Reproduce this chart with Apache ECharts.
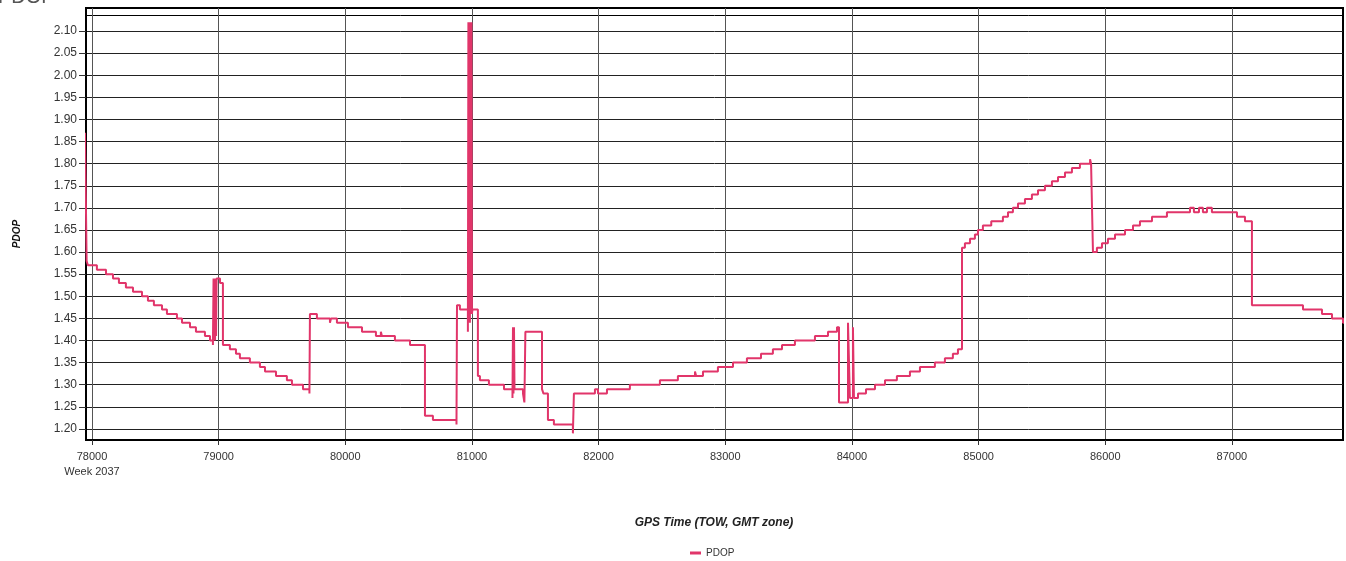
<!DOCTYPE html>
<html>
<head>
<meta charset="utf-8">
<script src="https://cdn.jsdelivr.net/npm/echarts@6/dist/echarts.min.js"></script>
<style>
html,body{margin:0;padding:0;background:#fff;}
#chart{width:1346px;height:561px;}
</style>
</head>
<body>
<div id="chart"></div>
<script>
// Tick labels
const xTicks = [78000, 79000, 80000, 81000, 82000, 83000, 84000, 85000, 86000, 87000];
const yTicks = [1.20, 1.25, 1.30, 1.35, 1.40, 1.45, 1.50, 1.55, 1.60, 1.65, 1.70, 1.75, 1.80, 1.85, 1.90, 1.95, 2.00, 2.05, 2.10];
const seriesName = 'PDOP';
const weekLabel = 'Week 2037';

// GPS time (TOW, s) at which each step starts
const tow = [
  77945, 77958, 77968, 78039, 78111, 78166, 78213, 78268, 78324, 78395,
  78442, 78489, 78553, 78592, 78671, 78711, 78774, 78821, 78892, 78932,
  78955, 78960, 78964, 78968, 78972, 78976, 78980, 78984, 79011, 79034,
  79089, 79137, 79168, 79247, 79326, 79366, 79453, 79539, 79579, 79666,
  79717, 79721, 79776, 79879, 79887, 79934, 80021, 80132, 80242, 80281,
  80289, 80392, 80511, 80629, 80692, 80878, 80882, 80905,
  80968, 80972, 80976, 80980, 80984, 80988, 80992, 80996, 81000, 81004,
  81047, 81063, 81134, 81253, 81320, 81324, 81328, 81332, 81336, 81403,
  81414, 81422, 81553, 81565, 81600, 81647, 81797, 81805, 81971, 81995,
  82066, 82247, 82484, 82626, 82761, 82770, 82824, 82942, 83061, 83171,
  83282, 83376, 83448, 83550, 83708, 83811, 83882, 83898, 83969, 83984,
  84008, 84016, 84048, 84111, 84182, 84261, 84355, 84458, 84537, 84655,
  84734, 84797, 84837, 84869, 84892, 84932, 84971, 84995, 85034, 85100,
  85192, 85232, 85271, 85311, 85366, 85421, 85469, 85524, 85579, 85627,
  85682, 85737, 85800, 85880, 85888, 85903, 85934, 85974, 86021, 86077,
  86156, 86219, 86274, 86369, 86487, 86669, 86700, 86740, 86771, 86803,
  86842, 87040, 87103, 87158, 87561, 87711, 87790, 87877, 87900
];
// PDOP value held from that time until the next one
const pdop = [
  1.87, 1.58, 1.57, 1.56, 1.55, 1.54, 1.53, 1.52, 1.51, 1.50,
  1.49, 1.48, 1.47, 1.46, 1.45, 1.44, 1.43, 1.42, 1.41, 1.40,
  1.39, 1.54, 1.40, 1.54, 1.40, 1.54, 1.41, 1.54, 1.53, 1.39,
  1.38, 1.37, 1.36, 1.35, 1.34, 1.33, 1.32, 1.31, 1.30, 1.29,
  1.28, 1.46, 1.45, 1.44, 1.45, 1.44, 1.43, 1.42, 1.41, 1.42,
  1.41, 1.40, 1.39, 1.23, 1.22, 1.21, 1.48, 1.47,
  1.42, 2.12, 1.45, 2.12, 1.44, 2.12, 1.47, 2.12, 1.46, 1.47,
  1.32, 1.31, 1.30, 1.29, 1.27, 1.43, 1.28, 1.43, 1.29, 1.28,
  1.26, 1.42, 1.29, 1.28, 1.22, 1.21, 1.19, 1.28, 1.29, 1.28,
  1.29, 1.30, 1.31, 1.32, 1.33, 1.32, 1.33, 1.34, 1.35, 1.36,
  1.37, 1.38, 1.39, 1.40, 1.41, 1.42, 1.43, 1.26, 1.44, 1.27,
  1.43, 1.27, 1.28, 1.29, 1.30, 1.31, 1.32, 1.33, 1.34, 1.35,
  1.36, 1.37, 1.38, 1.61, 1.62, 1.63, 1.64, 1.65, 1.66, 1.67,
  1.68, 1.69, 1.70, 1.71, 1.72, 1.73, 1.74, 1.75, 1.76, 1.77,
  1.78, 1.79, 1.80, 1.81, 1.80, 1.60, 1.61, 1.62, 1.63, 1.64,
  1.65, 1.66, 1.67, 1.68, 1.69, 1.70, 1.69, 1.70, 1.69, 1.70,
  1.69, 1.68, 1.67, 1.48, 1.47, 1.46, 1.45, 1.44, 1.44
];

const FONT = '"Liberation Sans", Arial, sans-serif';
const LINE_COLOR = '#e1356a';

const chart = echarts.init(document.getElementById('chart'), null, {renderer: 'canvas'});
const data = tow.map((t, i) => [t, pdop[i]]);

chart.setOption({
  backgroundColor: '#fff',
  animation: false,
  grid: {left: 86, right: 3, top: 8, bottom: 121, show: true, borderColor: '#000', borderWidth: 2},
  legend: {
    data: [seriesName], left: 685, top: 543, itemWidth: 11, itemHeight: 3, icon: 'rect',
    textStyle: {fontFamily: FONT, fontSize: 10, color: '#333'}, itemGap: 4
  },
  xAxis: {
    type: 'value', min: 77953, max: 87877,
    axisLine: {show: true, lineStyle: {color: '#000', width: 2}},
    axisTick: {show: true, length: 5, lineStyle: {color: '#333'}, customValues: xTicks},
    axisLabel: {
      customValues: xTicks, margin: 9, color: '#333', fontFamily: FONT, fontSize: 11, lineHeight: 15,
      formatter: v => v === xTicks[0] ? v + '\n' + weekLabel : String(v)
    },
    splitLine: {show: true, lineStyle: {color: '#555', width: 1}}
  },
  yAxis: {
    type: 'value', min: 1.175, max: 2.152,
    axisLine: {show: true, lineStyle: {color: '#000', width: 2}},
    axisTick: {show: true, length: 7, lineStyle: {color: '#333'}, customValues: yTicks},
    axisLabel: {customValues: yTicks, margin: 9, color: '#333', fontFamily: FONT, fontSize: 12,
      formatter: v => v.toFixed(2)},
    splitLine: {show: true, lineStyle: {color: '#222', width: 1}}
  },
  graphic: [
    {type: 'line', shape: {x1: 86, y1: 15.5, x2: 1343, y2: 15.5}, style: {stroke: '#000', lineWidth: 1}, silent: true},
    {type: 'text', left: -2, top: -13, style: {text: 'PDOP', font: '20px ' + FONT, fill: '#555'}, silent: true},
    {type: 'text', x: 17, y: 234, rotation: Math.PI / 2,
      style: {text: 'PDOP', font: 'italic bold 10px ' + FONT, fill: '#111', align: 'center', verticalAlign: 'middle'}, silent: true},
    {type: 'text', x: 714, y: 523,
      style: {text: 'GPS Time (TOW, GMT zone)', font: 'italic bold 12px ' + FONT, fill: '#222', align: 'center', verticalAlign: 'middle'}, silent: true}
  ],
  series: [{
    name: seriesName, type: 'line', step: 'end', data: data,
    showSymbol: false, symbol: 'none', clip: true,
    lineStyle: {color: LINE_COLOR, width: 2}, itemStyle: {color: LINE_COLOR}
  }]
});
</script>
</body>
</html>
